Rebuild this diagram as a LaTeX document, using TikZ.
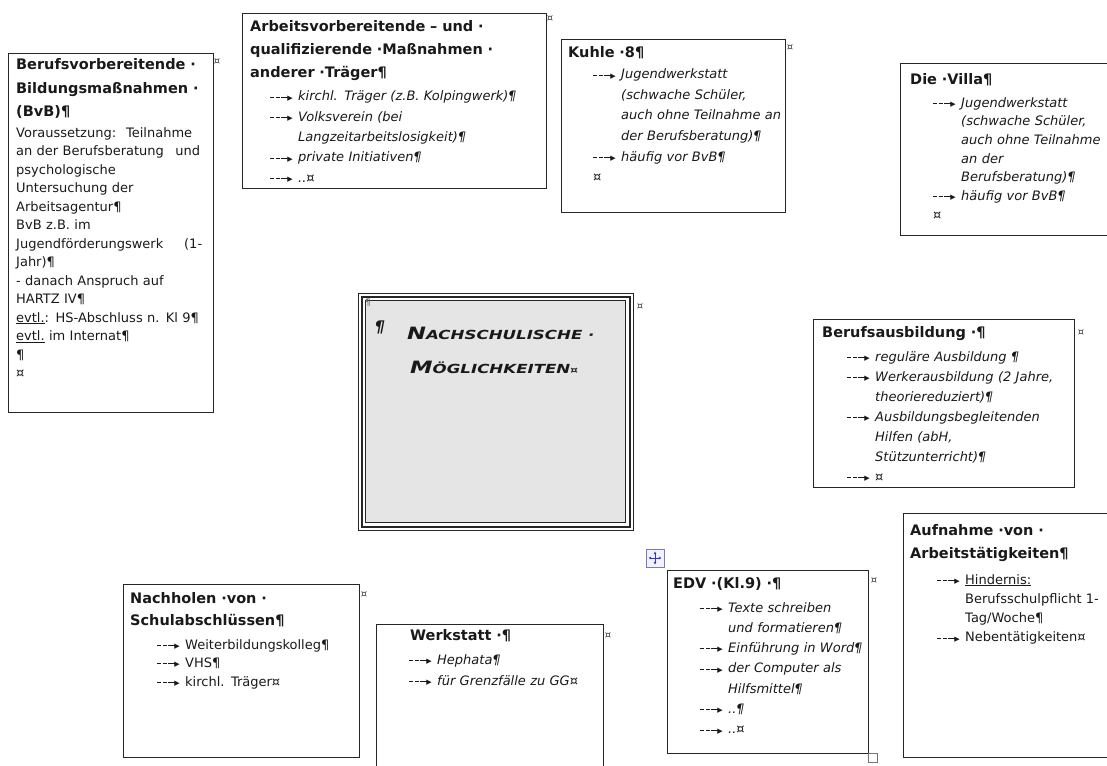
\documentclass[tikz,border=0pt]{standalone}
\usepackage{fontspec}
\usepackage{graphicx}
\setmainfont{DejaVu Sans}
\newfontfamily\symf{DejaVu Sans}
\usetikzlibrary{arrows.meta}
\newlength\ind
\newcommand\arr{\rule[3.2pt]{3.8pt}{1.1pt}\hspace{1.8pt}\rule[3.2pt]{3.8pt}{1.1pt}\hspace{1.8pt}\rule[3.2pt]{6.5pt}{1.1pt}\kern-0.6pt\raisebox{0.7pt}{\fontsize{7}{7}\symf ▶}}
\newcommand\ar{\hspace*{\ind}\makebox[28pt][l]{\arr}}
\newcommand\co{\hspace*{\dimexpr\ind+28pt\relax}}
\newcommand\jline[2]{\leavevmode\hbox to #1{#2}}
\newcommand\capword[2]{{\fontsize{17}{17}\selectfont #1}{\fontsize{12.5}{12.5}\selectfont #2}}
\tikzset{
    frame/.style={draw=black!85, line width=1.3pt, anchor=north west, inner sep=0pt},
    head/.style={anchor=base west, inner sep=0pt, text width=320pt, align=left, text=black!90, font=\fontsize{14.5}{#1}\selectfont\bfseries},
    head/.default=23pt,
    body/.style={anchor=base west, inner sep=0pt, text width=320pt, align=left, text=black!90, font=\fontsize{13}{#1}\selectfont},
    body/.default=19pt,
    ibody/.style={body=#1, font=\fontsize{13}{#1}\selectfont\itshape},
    ibody/.default=19pt,
    endmark/.style={inner sep=0pt, text=black!75, font=\fontsize{10}{10}\selectfont},
}
\begin{document}
\begin{tikzpicture}[x=1pt, y=-1pt]
    \useasboundingbox (0,0) rectangle (1107,765);
    % frames
    \node[frame, minimum width=205pt, minimum height=359pt] (bvb) at (8,53) {};
    \node[frame, minimum width=304pt, minimum height=175pt] (arb) at (242,13) {};
    \node[frame, minimum width=224pt, minimum height=173pt] (kuh) at (561,39) {};
    \node[frame, minimum width=230pt, minimum height=172pt] (vil) at (900,63) {};
    \node[frame, minimum width=261pt, minimum height=168pt] (aus) at (813,319) {};
    \node[frame, minimum width=236pt, minimum height=173pt] (nach) at (123,584) {};
    \node[frame, minimum width=227pt, minimum height=160pt] (werk) at (376,624) {};
    \node[frame, minimum width=201pt, minimum height=183pt] (edv) at (667,570) {};
    \node[frame, minimum width=230pt, minimum height=244pt] (aufn) at (903,513) {};
    \node[frame, minimum width=275pt, minimum height=237pt, line width=1pt] (mid) at (358,293) {};
    \draw[black!85, line width=2pt] (361.5,296.5) rectangle (629.5,526.5);
    \draw[black!85, line width=0.9pt, fill=black!10] (365.5,300.5) rectangle (625.5,522.5);

    % middle
    \node[inner sep=0pt, text=black!60, font=\fontsize{9}{9}\selectfont] (mid-p1) at (368,303) {¶};
    \node[inner sep=0pt, text=black!90, font=\fontsize{16}{16}\selectfont\bfseries\itshape] (mid-p2) at (380,327) {¶};
    \node[anchor=base west, inner sep=0pt, align=left, text=black!90, font=\symf\bfseries\itshape\fontsize{12.5}{34}\selectfont] (mid-t) at (407,373)
        {\scalebox{1.33}[1]{\capword{N}{ACHSCHULISCHE ·}}\\\hspace*{3pt}\scalebox{1.33}[1]{\capword{M}{ÖGLICHKEITEN}{\fontsize{9}{9}\selectfont¤}}};

    % BvB
    \node[head=23.5pt] (bvb-h) at (16,70) {Berufsvorbereitende ·\\Bildungsmaßnahmen ·\\(BvB)¶};
    \node[body=18.5pt] (bvb-b) at (16,137) {\jline{176pt}{Voraussetzung:\hfill Teilnahme}\\
        \jline{184pt}{an der Berufsberatung\hfill und}\\
        psychologische\\
        Untersuchung der\\
        Arbeitsagentur¶\\
        BvB z.B. im\\
        \jline{186pt}{Jugendförderungswerk\hfill (1-}\\
        Jahr)¶\\
        - danach Anspruch auf\\
        HARTZ IV¶\\
        \underline{evtl.}: HS-Abschluss n. Kl 9¶\\
        \underline{evtl.} im Internat¶\\
        ¶\\
        ¤};

    % Arbeitsvorbereitende
    \node[head=23pt] (arb-h) at (250,32) {Arbeitsvorbereitende – und ·\\qualifizierende ·Maßnahmen ·\\anderer ·Träger¶};
    \node[ibody=20.3pt] (arb-b) at (250,101) {\setlength\ind{20pt}%
        \ar kirchl. Träger (z.B. Kolpingwerk)¶\\
        \ar Volksverein (bei\\
        \co Langzeitarbeitslosigkeit)¶\\
        \ar private Initiativen¶\\
        \ar ..¤};

    % Kuhle 8
    \node[head] (kuh-h) at (568,58) {Kuhle ·8¶};
    \node[ibody=20.5pt] (kuh-b) at (568,79) {\setlength\ind{25pt}%
        \ar Jugendwerkstatt\\
        \co (schwache Schüler,\\
        \co auch ohne Teilnahme an\\
        \co der Berufsberatung)¶\\
        \ar häufig vor BvB¶\\
        \hspace*{\ind}¤};

    % Die Villa
    \node[head] (vil-h) at (910,85) {Die ·Villa¶};
    \node[ibody=18.7pt] (vil-b) at (910,107) {\setlength\ind{23pt}%
        \ar Jugendwerkstatt\\
        \co (schwache Schüler,\\
        \co auch ohne Teilnahme\\
        \co an der\\
        \co Berufsberatung)¶\\
        \ar häufig vor BvB¶\\
        \hspace*{\ind}¤};

    % Berufsausbildung
    \node[head] (aus-h) at (822,337) {Berufsausbildung ·¶};
    \node[ibody=20pt] (aus-b) at (822,361) {\setlength\ind{25pt}%
        \ar reguläre Ausbildung ¶\\
        \ar Werkerausbildung (2 Jahre,\\
        \co theoriereduziert)¶\\
        \ar Ausbildungsbegleitenden\\
        \co Hilfen (abH,\\
        \co Stützunterricht)¶\\
        \ar ¤};

    % Nachholen
    \node[head=22pt] (nach-h) at (130,603) {Nachholen ·von ·\\Schulabschlüssen¶};
    \node[body=18.5pt] (nach-b) at (130,649) {\setlength\ind{27pt}%
        \ar Weiterbildungskolleg¶\\
        \ar VHS¶\\
        \ar kirchl. Träger¤};

    % Werkstatt
    \node[head] (werk-h) at (410,640) {Werkstatt ·¶};
    \node[ibody=21pt] (werk-b) at (409,664) {\setlength\ind{0pt}%
        \ar Hephata¶\\
        \ar für Grenzfälle zu GG¤};

    % EDV
    \node[head] (edv-h) at (673,588) {EDV ·(Kl.9) ·¶};
    \node[ibody=20.3pt] (edv-b) at (673,612) {\setlength\ind{27pt}%
        \ar Texte schreiben\\
        \co und formatieren¶\\
        \ar Einführung in Word¶\\
        \ar der Computer als\\
        \co Hilfsmittel¶\\
        \ar ..¶\\
        \ar ..¤};

    % Aufnahme
    \node[head=23pt] (aufn-h) at (910,535) {Aufnahme ·von ·\\Arbeitstätigkeiten¶};
    \node[body=19.3pt] (aufn-b) at (910,584) {\setlength\ind{27pt}%
        \ar \underline{Hindernis:}\\
        \co Berufsschulpflicht 1-\\
        \co Tag/Woche¶\\
        \ar Nebentätigkeiten¤};

    % end-of-row marks
    \node[endmark] (bvb-m) at (217,62) {¤};
    \node[endmark] (arb-m) at (550,19) {¤};
    \node[endmark] (kuh-m) at (790,48) {¤};
    \node[endmark] (mid-m) at (640,307) {¤};
    \node[endmark] (aus-m) at (1081,333) {¤};
    \node[endmark] (nach-m) at (364,595) {¤};
    \node[endmark] (werk-m) at (608,636) {¤};
    \node[endmark] (edv-m) at (874,581) {¤};

    % move handle and resize box
    \node[draw=blue!30!gray!80, fill=blue!5, line width=0.6pt, minimum size=18pt, inner sep=0pt] (hdl) at (655,558) {};
    \foreach \d in {(6.5,0), (-6.5,0), (0,6.5), (0,-6.5)}
        \draw[blue!60!gray, line width=0.8pt, -{Latex[length=2.6pt, width=3pt]}] (hdl.center) -- ++\d;
    \node[draw=black!55, fill=white, line width=0.6pt, minimum size=9pt, inner sep=0pt] (rsz) at (873,758) {};
\end{tikzpicture}
\end{document}
